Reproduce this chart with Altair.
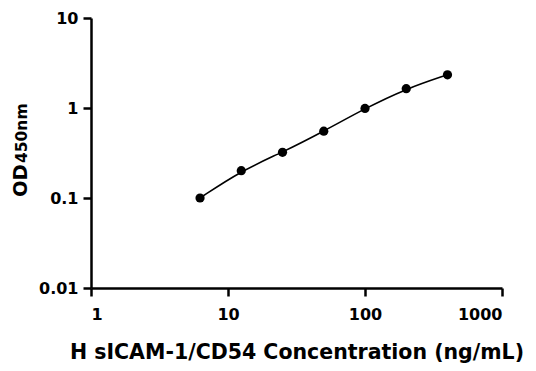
import altair as alt
import pandas as pd

conc = [6.25, 12.5, 25, 50, 100, 200, 400]
od = [0.100, 0.201, 0.322, 0.552, 0.99, 1.64, 2.34]

x_ticks = [1, 10, 100, 1000]
y_ticks = [0.01, 0.1, 1, 10]

df = pd.DataFrame({"conc": conc, "od": od})

FONT = "DejaVu Sans"

xs = alt.X("conc:Q", scale=alt.Scale(type="log", domain=[1, 1000]),
           axis=alt.Axis(values=x_ticks, format="~g",
                         title="H sICAM-1/CD54 Concentration (ng/mL)"))
ys = alt.Y("od:Q", scale=alt.Scale(type="log", domain=[0.01, 10]),
           axis=alt.Axis(values=y_ticks, format="~g", title=None))

base = alt.Chart(df)
line = base.mark_line(color="black", strokeWidth=1.6, interpolate="basis").encode(x=xs, y=ys)
pts = base.mark_circle(color="black", opacity=1, size=85).encode(x=xs, y=ys)

t_od = alt.Chart(pd.DataFrame({"t": ["OD"]})).mark_text(
    angle=270, align="left", baseline="alphabetic", font=FONT, fontWeight="bold",
    fontSize=19.5, color="black"
).encode(text="t:N", x=alt.value(-64), y=alt.value(179))
t_sub = alt.Chart(pd.DataFrame({"t": ["450nm"]})).mark_text(
    angle=270, align="left", baseline="alphabetic", font=FONT, fontWeight="bold",
    fontSize=15.5, color="black"
).encode(text="t:N", x=alt.value(-64), y=alt.value(145))

chart = alt.layer(line, pts, t_od, t_sub).properties(
    width=411, height=270,
    autosize=alt.AutoSizeParams(type="none"),
    padding={"left": 83, "top": 10, "right": 26, "bottom": 75},
).configure_view(stroke=None).configure_axis(
    grid=False, domainColor="black", domainWidth=2.5, tickColor="black", tickWidth=2.5,
    tickSize=8, labelFont=FONT, labelFontWeight="bold", labelFontSize=16,
    labelColor="black", titleFont=FONT, titleFontWeight="bold", titleFontSize=20.5,
    titleColor="black"
).configure_axisX(labelPadding=10, titlePadding=20).configure_axisY(labelPadding=5)

chart.save("out.html", embed_options={"renderer": "svg", "actions": False})
